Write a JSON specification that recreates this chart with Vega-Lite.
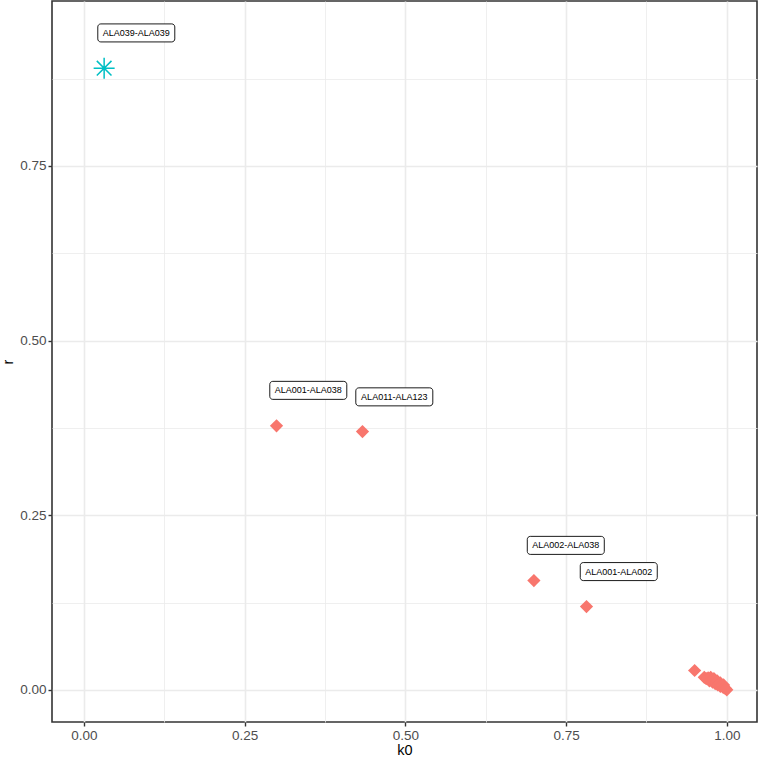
{
  "$schema": "https://vega.github.io/schema/vega-lite/v6.json",
  "autosize": {"type": "none"},
  "padding": {"left": 52, "top": 1, "right": 4, "bottom": 38},
  "width": 705,
  "height": 721,
  "background": "white",
  "config": {
    "view": {"stroke": "#333333", "strokeWidth": 1.6},
    "font": "Liberation Sans"
  },
  "data": {
    "values": [
      {"k0": 0.0316, "r": 0.8898, "group": "self", "label": "ALA039-ALA039", "lx": 0.0816, "ly": 0.9403},
      {"k0": 0.2997, "r": 0.378, "group": "other", "label": "ALA001-ALA038", "lx": 0.3491, "ly": 0.4287},
      {"k0": 0.4334, "r": 0.3697, "group": "other", "label": "ALA011-ALA123", "lx": 0.4829, "ly": 0.4194},
      {"k0": 0.700, "r": 0.1565, "group": "other", "label": "ALA002-ALA038", "lx": 0.7496, "ly": 0.2068},
      {"k0": 0.7818, "r": 0.1192, "group": "other", "label": "ALA001-ALA002", "lx": 0.832, "ly": 0.1693},
      {"k0": 0.950, "r": 0.0277, "group": "other"},
      {"k0": 0.965, "r": 0.018, "group": "other"},
      {"k0": 0.968, "r": 0.016, "group": "other"},
      {"k0": 0.971, "r": 0.017, "group": "other"},
      {"k0": 0.973, "r": 0.013, "group": "other"},
      {"k0": 0.975, "r": 0.018, "group": "other"},
      {"k0": 0.976, "r": 0.014, "group": "other"},
      {"k0": 0.978, "r": 0.011, "group": "other"},
      {"k0": 0.980, "r": 0.016, "group": "other"},
      {"k0": 0.980, "r": 0.012, "group": "other"},
      {"k0": 0.982, "r": 0.009, "group": "other"},
      {"k0": 0.984, "r": 0.010, "group": "other"},
      {"k0": 0.985, "r": 0.013, "group": "other"},
      {"k0": 0.986, "r": 0.007, "group": "other"},
      {"k0": 0.988, "r": 0.008, "group": "other"},
      {"k0": 0.990, "r": 0.010, "group": "other"},
      {"k0": 0.990, "r": 0.005, "group": "other"},
      {"k0": 0.992, "r": 0.006, "group": "other"},
      {"k0": 0.994, "r": 0.004, "group": "other"},
      {"k0": 0.995, "r": 0.007, "group": "other"},
      {"k0": 0.996, "r": 0.003, "group": "other"},
      {"k0": 0.998, "r": 0.002, "group": "other"},
      {"k0": 1.000, "r": 0.000, "group": "other"}
    ]
  },
  "encoding": {
    "x": {
      "field": "k0", "type": "quantitative", "title": "k0",
      "scale": {"domain": [-0.0495, 1.047], "nice": false, "zero": false},
      "axis": {
        "values": [0, 0.125, 0.25, 0.375, 0.5, 0.625, 0.75, 0.875, 1],
        "labelExpr": "(datum.value * 4) % 1 == 0 ? format(datum.value, '.2f') : ''",
        "domain": false,
        "grid": true,
        "gridColor": "#ebebeb",
        "gridWidth": {"condition": {"test": "(datum.value * 4) % 1 != 0", "value": 0.8}, "value": 1.6},
        "tickColor": "#333333",
        "tickWidth": 1.4,
        "tickSize": 4,
        "tickOpacity": {"condition": {"test": "(datum.value * 4) % 1 != 0", "value": 0}, "value": 1},
        "labelColor": "#4d4d4d",
        "labelFontSize": 13.5,
        "labelPadding": 2,
        "labelFont": "Liberation Sans",
        "titleFont": "Liberation Sans",
        "titleFontSize": 14.5,
        "titleFontWeight": "normal",
        "titleColor": "#000000",
        "titlePadding": 2
      }
    },
    "y": {
      "field": "r", "type": "quantitative", "title": "r",
      "scale": {"domain": [-0.046, 0.986], "nice": false, "zero": false},
      "axis": {
        "values": [0, 0.125, 0.25, 0.375, 0.5, 0.625, 0.75, 0.875],
        "labelExpr": "(datum.value * 4) % 1 == 0 ? format(datum.value, '.2f') : ''",
        "domain": false,
        "grid": true,
        "gridColor": "#ebebeb",
        "gridWidth": {"condition": {"test": "(datum.value * 4) % 1 != 0", "value": 0.8}, "value": 1.6},
        "tickColor": "#333333",
        "tickWidth": 1.4,
        "tickSize": 4,
        "tickOpacity": {"condition": {"test": "(datum.value * 4) % 1 != 0", "value": 0}, "value": 1},
        "labelColor": "#4d4d4d",
        "labelFontSize": 13.5,
        "labelPadding": 2,
        "labelFont": "Liberation Sans",
        "titleFont": "Liberation Sans",
        "titleFontSize": 14.5,
        "titleFontWeight": "normal",
        "titleColor": "#000000",
        "titlePadding": 4
      }
    }
  },
  "layer": [
    {
      "mark": {"type": "point", "filled": false, "strokeWidth": 1.5, "opacity": 1},
      "transform": [{"filter": "datum.group == 'self'"}],
      "encoding": {
        "shape": {"value": "M-1,0L1,0M0,-1L0,1M-0.7,-0.7L0.7,0.7M-0.7,0.7L0.7,-0.7"},
        "size": {"value": 441},
        "color": {"value": "#00BFC4"}
      }
    },
    {
      "mark": {"type": "point", "filled": true, "opacity": 1, "shape": "diamond"},
      "transform": [{"filter": "datum.group == 'other'"}],
      "encoding": {
        "size": {"value": 175},
        "color": {"value": "#F8766D"}
      }
    },
    {
      "transform": [{"filter": "datum.label != null"}],
      "mark": {"type": "point", "filled": false, "fill": "white", "fillOpacity": 1, "stroke": "black", "strokeWidth": 0.9, "opacity": 1,
        "shape": "M-0.922,-0.234L0.922,-0.234A0.078,0.078 0 0 1 1,-0.156L1,0.156A0.078,0.078 0 0 1 0.922,0.234L-0.922,0.234A0.078,0.078 0 0 1 -1,0.156L-1,-0.156A0.078,0.078 0 0 1 -0.922,-0.234Z"},
      "encoding": {
        "x": {"field": "lx", "type": "quantitative"},
        "y": {"field": "ly", "type": "quantitative"},
        "size": {"value": 5929}
      }
    },
    {
      "transform": [{"filter": "datum.label != null"}],
      "mark": {"type": "text", "font": "Liberation Sans", "fontSize": 9, "color": "black", "align": "center", "baseline": "middle"},
      "encoding": {
        "x": {"field": "lx", "type": "quantitative"},
        "y": {"field": "ly", "type": "quantitative"},
        "text": {"field": "label"}
      }
    }
  ]
}
